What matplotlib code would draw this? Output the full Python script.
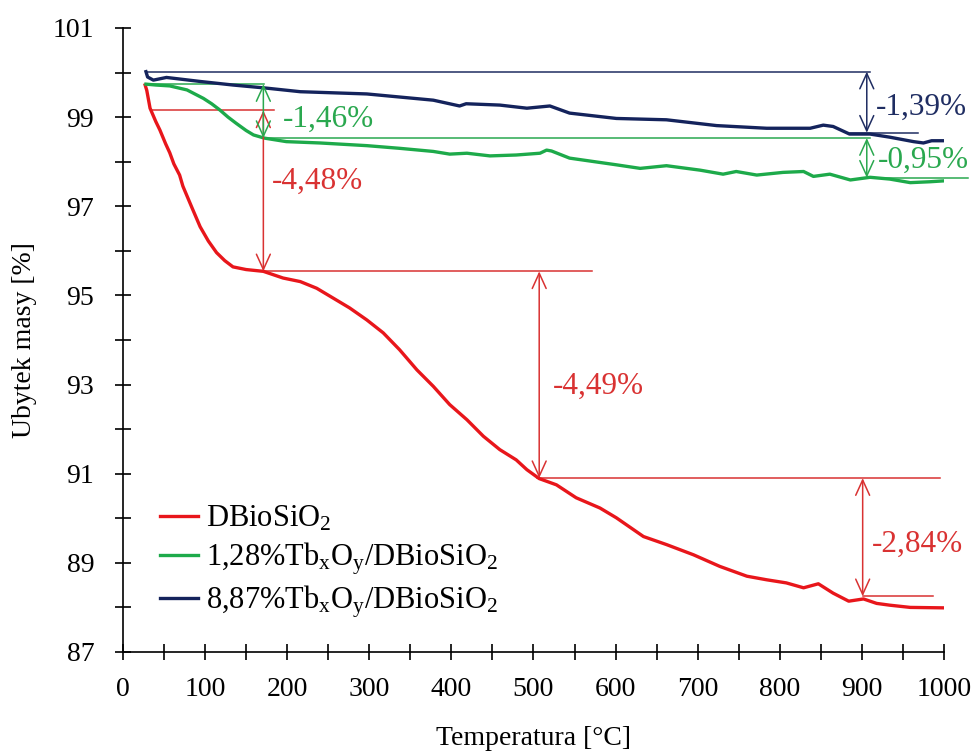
import numpy as np
import matplotlib
matplotlib.use("Agg")
import matplotlib.pyplot as plt

plt.rcParams['font.family'] = ['Liberation Serif', 'DejaVu Serif']
plt.rcParams['mathtext.fontset'] = 'custom'
plt.rcParams['mathtext.rm'] = 'Liberation Serif'
plt.rcParams['mathtext.it'] = 'Liberation Serif:italic'

# --- data ---
t_red = [27, 29, 33, 40, 45, 52, 57, 62, 69, 73, 84, 94, 104, 114, 124, 134, 150, 171,
         195, 216, 236, 256, 276, 297, 317, 337, 358, 378, 398, 419, 439, 459, 479,
         492, 507, 528, 552, 581, 601, 634, 662, 695, 727, 760, 784, 808, 829, 847,
         865, 884, 902, 918, 934, 959, 1000]
m_red = [99.72, 99.6, 99.2, 98.9, 98.71, 98.4, 98.2, 97.95, 97.7, 97.45, 96.97, 96.54,
         96.22, 95.96, 95.78, 95.64, 95.58, 95.54, 95.39, 95.31, 95.16, 94.94, 94.72,
         94.45, 94.16, 93.78, 93.33, 92.96, 92.55, 92.21, 91.84, 91.54, 91.31, 91.09,
         90.89, 90.75, 90.46, 90.23, 90.01, 89.59, 89.41, 89.18, 88.92, 88.70, 88.62,
         88.55, 88.44, 88.53, 88.32, 88.14, 88.19, 88.09, 88.05, 88.0, 87.99]

t_green = [28, 40, 57, 78, 98, 108, 118, 128, 138, 150, 159, 172, 199, 240, 297, 337,
           378, 398, 419, 447, 479, 508, 516, 522, 544, 601, 630, 662, 703, 731, 747,
           772, 804, 829, 841, 861, 886, 910, 934, 959, 983, 1000]
m_green = [99.74, 99.72, 99.70, 99.61, 99.42, 99.30, 99.16, 99.0, 98.86, 98.7, 98.6,
           98.53, 98.45, 98.42, 98.36, 98.3, 98.23, 98.17, 98.19, 98.13, 98.15, 98.19,
           98.26, 98.24, 98.08, 97.93, 97.85, 97.91, 97.81, 97.72, 97.78, 97.70, 97.76,
           97.78, 97.67, 97.72, 97.59, 97.65, 97.61, 97.53, 97.55, 97.57]

t_navy = [28, 30, 37, 53, 94, 134, 175, 216, 297, 378, 410, 418, 459, 492, 520, 544,
          601, 662, 723, 784, 837, 853, 865, 885, 910, 934, 963, 975, 985, 1000]
m_navy = [100.02, 99.9, 99.83, 99.89, 99.80, 99.72, 99.65, 99.57, 99.52, 99.38, 99.25,
          99.3, 99.27, 99.2, 99.25, 99.09, 98.97, 98.94, 98.81, 98.75, 98.75, 98.82,
          98.79, 98.62, 98.62, 98.55, 98.45, 98.42, 98.47, 98.47]

labels = [r'DBioSiO$_2$',
          r'1,28%Tb$_\mathrm{x}$O$_\mathrm{y}$/DBioSiO$_2$',
          r'8,87%Tb$_\mathrm{x}$O$_\mathrm{y}$/DBioSiO$_2$']

# annotation guides: (level, t_start, t_end)
red_levels = [(99.15, 35, 184), (95.54, 170, 571), (90.9, 504, 995), (88.25, 901, 987)]
red_arrows = [(171, 99.15, 95.54), (507, 95.54, 90.9), (901, 90.9, 88.25)]
red_texts = [(181, 97.55, '-4,48%'), (524, 92.97, '-4,49%'), (912, 89.41, '-2,84%')]

green_levels = [(99.74, 28, 172), (98.53, 172, 910), (97.64, 901, 1029)]
green_arrows = [(171, 99.74, 98.53), (906, 98.53, 97.64)]
green_texts = [(195, 98.96, '-1,46%'), (919, 98.02, '-0,95%')]

navy_levels = [(100.02, 28, 910), (98.65, 885, 968)]
navy_arrows = [(906, 100.02, 98.65)]
navy_texts = [(917, 99.21, '-1,39%')]

c_red = '#e8161b'
c_green = '#1daa4a'
c_navy = '#14235c'
a_red = '#d93232'
a_green = '#2aa84f'
a_navy = '#1f2d62'

fig = plt.figure(figsize=(9.79, 7.52), dpi=100)
ax = fig.add_axes([0.1256, 0.1330, 0.8386, 0.8298])

ax.plot(t_red, m_red, color=c_red, lw=2.4, label=labels[0])
ax.plot(t_green, m_green, color=c_green, lw=2.4, label=labels[1])
ax.plot(t_navy, m_navy, color=c_navy, lw=2.4, label=labels[2])


def guides(levels, arrows, texts, col):
    for lev, t0, t1 in levels:
        ax.plot([t0, t1], [lev, lev], color=col, lw=1.1, clip_on=False, zorder=1)
    for tx, y0, y1 in arrows:
        ax.annotate('', xy=(tx, y1), xytext=(tx, y0),
                    arrowprops=dict(arrowstyle='<->,head_length=1.1,head_width=0.5',
                                    color=col, lw=1.1, shrinkA=0, shrinkB=0))
    for tx, ty, s in texts:
        ax.text(tx, ty, s, color=col, fontsize=22.5, ha='left', va='center')


guides(red_levels, red_arrows, red_texts, a_red)
guides(green_levels, green_arrows, green_texts, a_green)
guides(navy_levels, navy_arrows, navy_texts, a_navy)

ax.set_xlim(0, 1000)
ax.set_ylim(87, 101)
ax.set_xticks(np.arange(0, 1001, 100))
ax.set_xticks(np.arange(50, 1000, 100), minor=True)
ax.set_yticks(np.arange(87, 102, 2))
ax.set_yticks(np.arange(88, 101, 2), minor=True)
for s in ['top', 'right']:
    ax.spines[s].set_visible(False)
for s in ['left', 'bottom']:
    ax.spines[s].set_linewidth(1.2)
ax.tick_params(which='both', direction='inout', length=11.5, width=1.2, labelsize=20)
ax.tick_params(axis='y', which='both', pad=15)
ax.tick_params(axis='x', which='both', pad=12)

ax.set_xlabel('Temperatura [°C]', fontsize=20)
ax.set_ylabel('Ubytek masy [%]', fontsize=20)
ax.xaxis.set_label_coords(0.5, -0.118)
ax.yaxis.set_label_coords(-0.105, 0.5)

ax.legend(loc='upper left', bbox_to_anchor=(0.045, 0.237), frameon=False, fontsize=22,
          handlelength=1.25, handletextpad=0.25, labelspacing=0.22, borderpad=0,
          borderaxespad=0)

fig.savefig('out.png', dpi=100)
